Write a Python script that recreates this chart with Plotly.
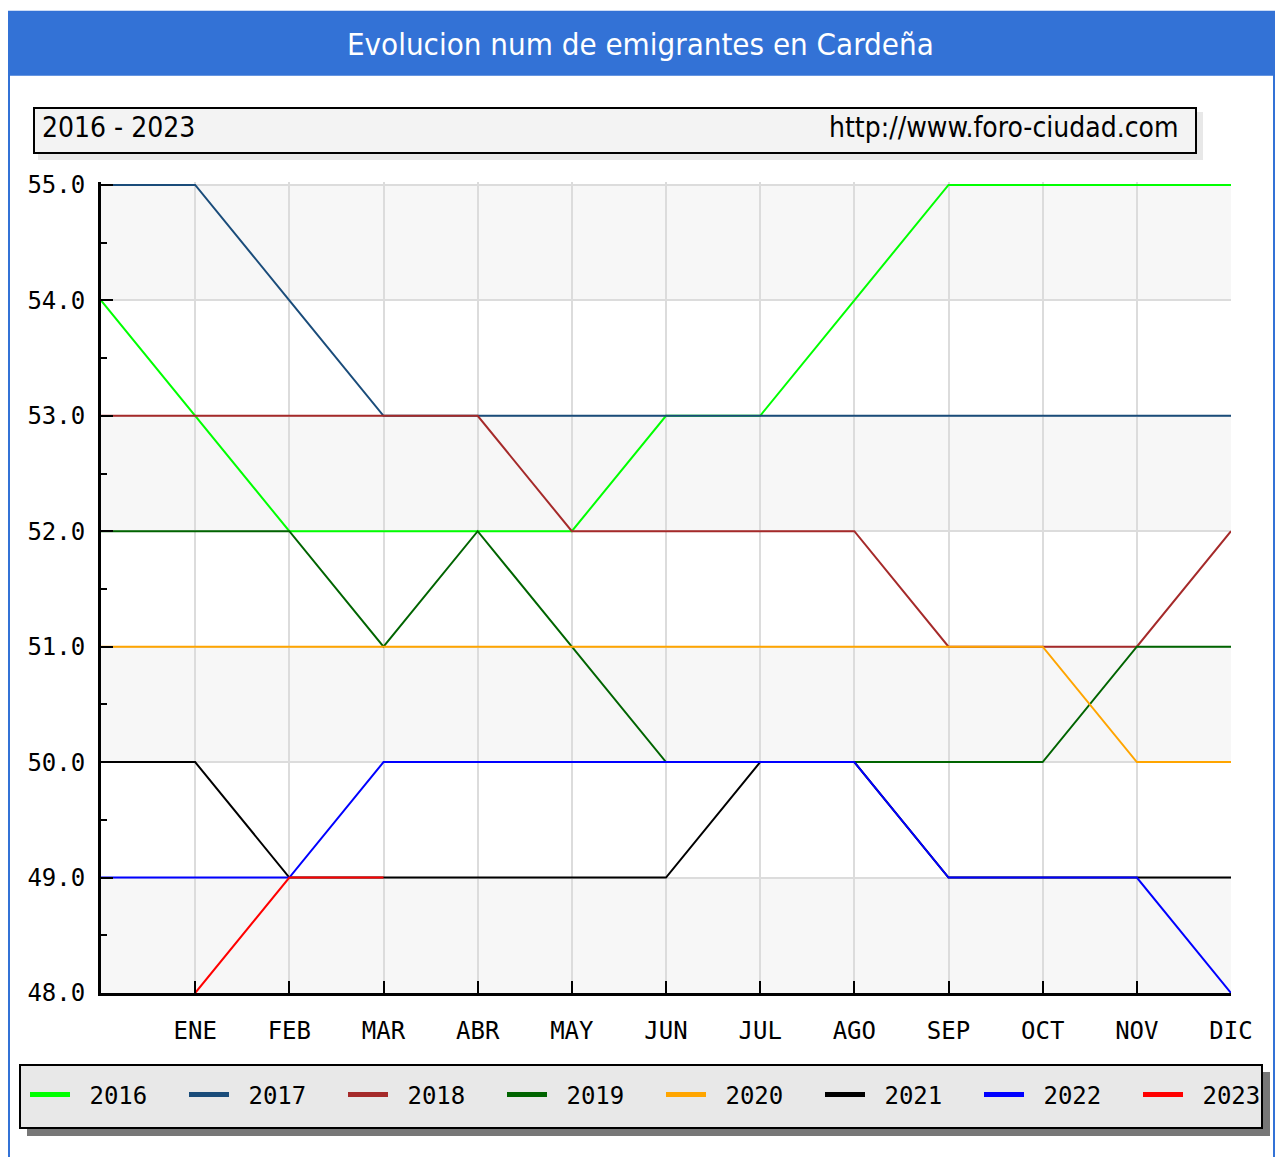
import plotly.graph_objects as go

# months shown on the x axis; position 0 is the unlabeled starting point
months = ["ENE", "FEB", "MAR", "ABR", "MAY", "JUN", "JUL", "AGO", "SEP", "OCT", "NOV", "DIC"]
years = ["2016", "2017", "2018", "2019", "2020", "2021", "2022", "2023"]

v2016 = [54, 53, 52, 52, 52, 52, 53, 53, 54, 55, 55, 55, 55]
v2017 = [55, 55, 54, 53, 53, 53, 53, 53, 53, 53, 53, 53, 53]
v2018 = [53, 53, 53, 53, 53, 52, 52, 52, 52, 51, 51, 51, 52]
v2019 = [52, 52, 52, 51, 52, 51, 50, 50, 50, 50, 50, 51, 51]
v2020 = [51, 51, 51, 51, 51, 51, 51, 51, 51, 51, 51, 50, 50]
v2021 = [50, 50, 49, 49, 49, 49, 49, 50, 50, 49, 49, 49, 49]
v2022 = [49, 49, 49, 50, 50, 50, 50, 50, 50, 49, 49, 49, 48]
v2023 = [None, 48, 49, 49, None, None, None, None, None, None, None, None, None]

series = [v2016, v2017, v2018, v2019, v2020, v2021, v2022, v2023]
colors = ["#00ff00", "#1a4c7a", "#a52a2a", "#006400", "#ffa500", "#000000", "#0000ff", "#ff0000"]

W, H = 1279, 1157
L, R, T, B = 101, 1231, 185, 993
y_lo, y_hi, y_pad = 48, 55, 0.025
y_scale = (B - T) / (y_hi - y_lo)
T_plot = T - y_pad * y_scale  # leave room so lines at 55 are not clipped


def px_x(p):
    return (p - L) / (R - L)


def px_y(p):
    return (B - p) / (B - T_plot)


fig = go.Figure()
xs = list(range(len(months) + 1))
for name, vals, col in zip(years, series, colors):
    fig.add_trace(
        go.Scatter(
            x=xs,
            y=vals,
            mode="lines",
            line=dict(color=col, width=2),
            showlegend=False,
            hoverinfo="skip",
        )
    )
# legend entries with thicker symbols (last one in a second legend so the row fits)
for i, (name, col) in enumerate(zip(years, colors)):
    fig.add_trace(
        go.Scatter(x=[None], y=[None], mode="lines", name="\u00a0" + name,
                   line=dict(color=col, width=5),
                   legend="legend2" if i == len(years) - 1 else "legend")
    )

shapes = []
# alternating bands in plot area
for lo in [48, 50, 52, 54]:
    shapes.append(
        dict(type="rect", xref="paper", yref="y", x0=0, x1=1, y0=lo, y1=lo + 1,
             fillcolor="#f7f7f7", line=dict(width=0), layer="below")
    )
# outer frame + title bar
shapes.append(dict(type="rect", xref="paper", yref="paper", x0=px_x(9), x1=px_x(1274),
                   y0=px_y(1170), y1=px_y(12), line=dict(color="#3372d6", width=2),
                   fillcolor="rgba(0,0,0,0)", layer="below"))
shapes.append(dict(type="rect", xref="paper", yref="paper", x0=px_x(8), x1=px_x(1275),
                   y0=px_y(76), y1=px_y(12), line=dict(width=0), fillcolor="#3372d6"))
# subtitle box
shapes.append(dict(type="rect", xref="paper", yref="paper", x0=px_x(38), x1=px_x(1203),
                   y0=px_y(160), y1=px_y(112), line=dict(width=0), fillcolor="#e8e8e8"))
shapes.append(dict(type="rect", xref="paper", yref="paper", x0=px_x(34), x1=px_x(1196),
                   y0=px_y(153), y1=px_y(108), line=dict(color="#000000", width=2),
                   fillcolor="#f3f3f3"))
# legend box
shapes.append(dict(type="rect", xref="paper", yref="paper", x0=px_x(27), x1=px_x(1270),
                   y0=px_y(1136), y1=px_y(1072), line=dict(width=0), fillcolor="#777777"))
shapes.append(dict(type="rect", xref="paper", yref="paper", x0=px_x(20), x1=px_x(1262),
                   y0=px_y(1128), y1=px_y(1065), line=dict(color="#000000", width=2),
                   fillcolor="#e8e8e8"))

title_font = "DejaVu Sans Condensed, Liberation Sans Narrow, DejaVu Sans, sans-serif"
annotations = [
    dict(text="Evolucion num de emigrantes en Cardeña", x=px_x(640), y=px_y(44),
         xref="paper", yref="paper", showarrow=False, xanchor="center", yanchor="middle",
         font=dict(family=title_font, size=31, color="#ffffff")),
    dict(text="2016 - 2023", x=px_x(40), y=px_y(128), xref="paper", yref="paper",
         showarrow=False, xanchor="left", yanchor="middle",
         font=dict(family=title_font, size=28, color="#000000")),
    dict(text="http://www.foro-ciudad.com", x=px_x(1180), y=px_y(128), xref="paper",
         yref="paper", showarrow=False, xanchor="right", yanchor="middle",
         font=dict(family=title_font, size=28, color="#000000")),
]

mono = "DejaVu Sans Mono, Liberation Mono, monospace"
legend_style = dict(
    orientation="h",
    y=(H - 1095) / H,
    xref="container",
    yref="container",
    xanchor="left",
    yanchor="middle",
    bgcolor="rgba(0,0,0,0)",
    borderwidth=0,
    font=dict(family=mono, size=24, color="#000000"),
    entrywidth=104,
    entrywidthmode="pixels",
    itemwidth=40,
)
fig.update_layout(
    width=W,
    height=H,
    margin=dict(l=L, r=W - R, t=T_plot, b=H - B),
    plot_bgcolor="#ffffff",
    paper_bgcolor="#ffffff",
    shapes=shapes,
    annotations=annotations,
    showlegend=True,
    legend=dict(x=25 / W, **legend_style),
    legend2=dict(x=1138 / W, **legend_style),
    xaxis=dict(
        range=[0, 12],
        tickvals=xs[1:],
        ticktext=months,
        showgrid=True,
        gridcolor="#dcdcdc",
        gridwidth=2,
        zeroline=False,
        showline=True,
        linecolor="#000000",
        linewidth=3,
        ticks="inside",
        ticklen=12,
        tickwidth=2,
        tickcolor="#000000",
        ticklabelstandoff=14,
        tickfont=dict(family=mono, size=24, color="#000000"),
        fixedrange=True,
    ),
    yaxis=dict(
        range=[y_lo, y_hi + y_pad],
        tickvals=list(range(y_lo, y_hi + 1)),
        tickformat=".1f",
        showgrid=True,
        gridcolor="#dcdcdc",
        gridwidth=2,
        zeroline=False,
        showline=True,
        linecolor="#000000",
        linewidth=3,
        ticks="inside",
        ticklen=12,
        tickwidth=2,
        tickcolor="#000000",
        ticklabelstandoff=8,
        minor=dict(tickvals=[v + 0.5 for v in range(y_lo, y_hi)], ticks="inside", ticklen=6,
                   tickwidth=2, tickcolor="#000000", showgrid=False),
        tickfont=dict(family=mono, size=24, color="#000000"),
        fixedrange=True,
    ),
)

fig.write_html(
    "out.html",
    config={"displayModeBar": False},
    post_script="document.body.style.margin='0';document.body.style.overflow='hidden';",
)
